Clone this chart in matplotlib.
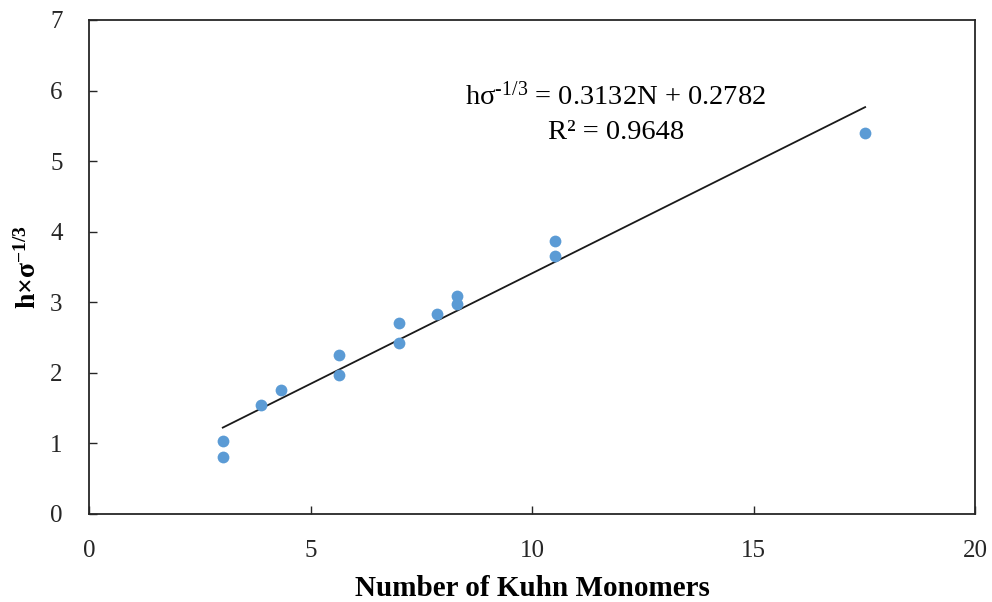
import numpy as np
import matplotlib
matplotlib.use("Agg")
import matplotlib.pyplot as plt

plt.rcParams['font.family'] = ['Liberation Serif', 'DejaVu Serif']
plt.rcParams['mathtext.fontset'] = 'custom'
plt.rcParams['mathtext.rm'] = 'Liberation Serif'
plt.rcParams['mathtext.it'] = 'Liberation Serif:italic'
plt.rcParams['mathtext.bf'] = 'Liberation Serif:bold'

# Kuhn monomers vs scaled brush height
kuhn_n = [3.02, 3.02, 3.88, 4.33, 5.65, 5.65, 6.99, 6.99, 7.85, 8.30, 8.30, 10.52, 10.52, 17.52]
h_scaled = [1.04, 0.81, 1.55, 1.76, 2.26, 1.97, 2.71, 2.43, 2.83, 3.09, 2.98, 3.87, 3.66, 5.40]

slope = 0.3132
intercept = 0.2782
r_squared = 0.9648

x_ticks = [0, 5, 10, 15, 20]
y_ticks = [0, 1, 2, 3, 4, 5, 6, 7]

W, H = 992, 602
fig = plt.figure(figsize=(W / 100, H / 100), dpi=100)
ax = fig.add_axes([89 / W, 1 - 514 / H, (975 - 89) / W, (514 - 20) / H])

ax.scatter(kuhn_n, h_scaled, s=72, color='#5B9BD5', zorder=3, linewidths=0)

xfit = np.array([min(kuhn_n), max(kuhn_n)])
ax.plot(xfit, slope * xfit + intercept, color='#1a1a1a', lw=1.3, zorder=2)

ax.set_xlim(0, 20)
ax.set_ylim(0, 7)
ax.set_xticks(x_ticks)
ax.set_yticks(y_ticks)
ax.tick_params(direction='in', length=6, width=1.0, labelsize=18, colors='#262626')
ax.tick_params(axis='y', pad=19)
ax.tick_params(axis='x', pad=19)
for sp in ax.spines.values():
    sp.set_linewidth(1.3)
    sp.set_color('#262626')

ax.set_xlabel('Number of Kuhn Monomers', fontsize=21, fontweight='bold', labelpad=9)
ax.set_ylabel(r'h×σ$^{\mathbf{-1/3}}$', fontsize=20, fontweight='bold', labelpad=6)

# trendline equation, placed in figure pixel coordinates
fig.text(615 / W, 1 - 96 / H, r'hσ$^{\text{-1/3}}$ = %.4fN + %.4f' % (slope, intercept),
         fontsize=20.5, ha='center', va='center')
fig.text(616 / W, 1 - 133 / H, 'R² = %.4f' % r_squared,
         fontsize=20.5, ha='center', va='center')

fig.savefig('out.png', dpi=100)
